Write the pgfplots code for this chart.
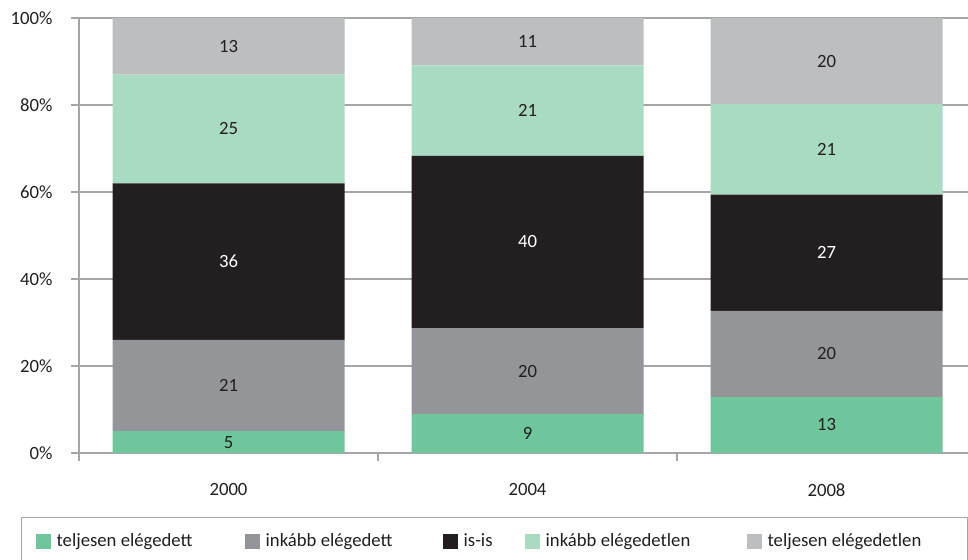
\documentclass[border=0pt]{standalone}
\usepackage{fontspec}
\setmainfont{Carlito}
\usepackage{pgfplots}
\pgfplotsset{compat=1.18}
\usepackage{pgfplotstable}
\definecolor{c1}{HTML}{6FC69C}
\definecolor{c2}{HTML}{939598}
\definecolor{c3}{HTML}{231F20}
\definecolor{c4}{HTML}{A9DBC2}
\definecolor{c5}{HTML}{BCBEC0}
\definecolor{gridc}{HTML}{A6A6A6}
\definecolor{txt}{HTML}{231F20}
\newcommand{\chartfont}{\fontsize{18.7}{22}\selectfont}

\pgfplotstableread{
x a b c d e
0 5 21 36 25 13
1 8.91 19.80 39.60 20.79 10.89
2 12.87 19.80 26.73 20.79 19.80
}\datatable

\pgfplotstableread{
x y lab
0 2.5 5
0 15.5 21
0 74.5 25
0 93.5 13
1 4.46 9
1 18.81 20
1 78.71 21
1 94.55 11
2 6.44 13
2 22.77 20
2 69.80 21
2 90.10 20
}\darklabels

\pgfplotstableread{
x y lab
0 44 36
1 48.51 40
2 46.04 27
}\whitelabels

\begin{document}
\begin{tikzpicture}
\path[use as bounding box] (0pt,0pt) rectangle (968pt,559pt);
\begin{axis}[
  at={(79pt,106pt)}, anchor=south west,
  scale only axis, width=897pt, height=435pt,
  xmin=-0.5, xmax=2.5, ymin=0, ymax=100,
  ybar stacked, bar width=232pt,
  axis x line*=bottom, axis y line*=left,
  axis line style={gridc, line width=1.6pt, -},
  ymajorgrids, grid style={gridc, line width=1.4pt},
  ytick={0,20,40,60,80,100},
  yticklabel={\pgfmathprintnumber{\tick}\%},
  yticklabel style={xshift=-15pt},
  /pgf/number format/assume math mode=true,
  xtick={-0.5,0.5,1.5,2.5}, xticklabels={},
  extra x ticks={0,1,2}, extra x tick labels={2000,2004,2008},
  extra x tick style={tick style={draw=none}, xticklabel style={yshift=-19pt}},
  tick align=outside, major tick length=8pt,
  tick style={gridc, line width=1.4pt},
  ticklabel style={font=\chartfont, text=txt},
  legend columns=5,
  legend style={at={(-0.0647,-0.1471)}, anchor=north west, draw=gridc, line width=1.4pt,
    inner xsep=14pt, inner ysep=16pt, column sep=0pt,
    nodes={inner sep=0pt, font=\chartfont, text=txt}},
  legend image code/.code={\fill[#1, draw=none] (0pt,-7.5pt) rectangle (15pt,7.5pt); \path (21pt,0pt);},
]
\addplot[fill=c1, draw=none] table[x=x, y=a] {\datatable};
\addplot[fill=c2, draw=none] table[x=x, y=b] {\datatable};
\addplot[fill=c3, draw=none] table[x=x, y=c] {\datatable};
\addplot[fill=c4, draw=none] table[x=x, y=d] {\datatable};
\addplot[fill=c5, draw=none] table[x=x, y=e] {\datatable};
\addlegendentry{\makebox[188pt][l]{teljesen elégedett}}
\addlegendentry{\makebox[177pt][l]{inkább elégedett}}
\addlegendentry{\makebox[61pt][l]{is-is}}
\addlegendentry{\makebox[201pt][l]{inkább elégedetlen}}
\addlegendentry{\makebox[186pt][l]{teljesen elégedetlen}}
\end{axis}
\begin{axis}[
  at={(79pt,106pt)}, anchor=south west,
  scale only axis, width=897pt, height=435pt,
  xmin=-0.5, xmax=2.5, ymin=0, ymax=100,
  hide axis,
  nodes near coords, point meta=explicit symbolic,
  nodes near coords align={center},
]
\addplot[draw=none, mark=none, nodes near coords style={font=\chartfont, text=txt, anchor=center}] table[x=x, y=y, meta=lab] {\darklabels};
\addplot[draw=none, mark=none, nodes near coords style={font=\chartfont, text=white, anchor=center}] table[x=x, y=y, meta=lab] {\whitelabels};
\end{axis}
\end{tikzpicture}
\end{document}
